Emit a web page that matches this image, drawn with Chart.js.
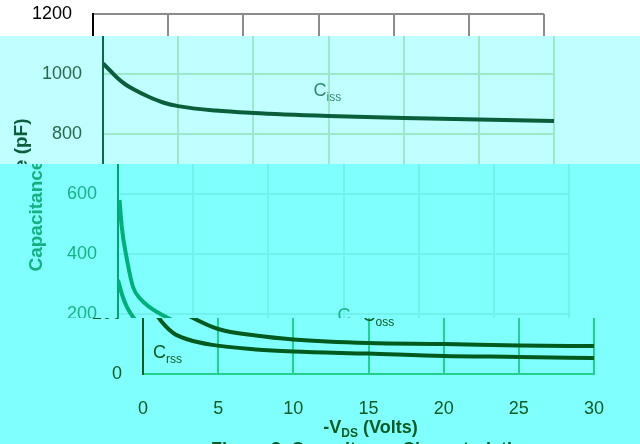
<!DOCTYPE html>
<html>
<head>
<meta charset="utf-8">
<script src="https://cdn.jsdelivr.net/npm/chart.js@4/dist/chart.umd.min.js"></script>
<style>
body { margin: 0; background: #fff; }
#wrap { position: relative; width: 640px; height: 444px; overflow: hidden; }
.band { position: absolute; left: 0; width: 640px; overflow: hidden; }
.band div { position: absolute; width: 640px; height: 444px; }
</style>
</head>
<body>
<div id="wrap"></div>
<script>
// data (volts / pF)
var ciss_v  = [0, 0.5, 1, 1.5, 2, 3, 4, 5, 7.5, 10, 15, 20, 25, 30];
var ciss_pf = [1035, 1010, 985, 965, 950, 925, 905, 893, 878, 870, 860, 853, 848, 843];
var coss_v  = [0.1, 0.25, 0.6, 1, 1.5, 2.1, 3.2, 5, 7.5, 10, 15, 20, 25, 30];
var coss_pf = [580, 490, 380, 290, 250, 223, 190, 150, 128, 115, 103, 100, 95, 93];
var crss_v  = [0, 0.3, 0.6, 1, 2, 3, 4.6, 7.5, 10, 15, 20, 25, 30];
var crss_pf = [313, 260, 223, 190, 137, 115, 97, 82, 75, 68, 60, 57, 53];
var x_min = 0, x_max = 30, x_step = 5;
var y_min = 0, y_max = 1200, y_step = 200;
var x_title = ["-V", "DS", " (Volts)"];
var y_title = "Capacitance (pF)";
var caption = "Figure 3. Capacitance Characteristics";
// series label anchors: [name, sub, volts, pF]
var labels = [["C", "iss", 14, 927], ["C", "oss", 14.6, 177], ["C", "rss", 0.67, 53]];

// the picture is cut in horizontal strips, each shifted and recoloured
var bands = [
    { top: 0,   h: 36,  shift: 0,  bg: '#ffffff', grid: '#8c8c8c', axisY: '#000000', axisX: '#8c8c8c', tick: '#000000', line: '#0b5e3c', text: '#000000' },
    { top: 36,  h: 128, shift: 10, bg: '#c0ffff', grid: '#9de8c8', axisY: '#0b6b48', axisX: '#9de8c8', tick: '#236b4c', line: '#0b5e3c', text: '#2f8a6c', title: '#0b5e3c' },
    { top: 164, h: 154, shift: 25, bg: '#80ffff', grid: '#72f2ec', axisY: '#00a574', axisX: '#72f2ec', tick: '#14b383', line: '#00b07a', text: '#14b383', title: '#14b080' },
    { top: 318, h: 126, shift: 50, bg: '#80ffff', grid: '#24d08e', axisY: '#005a28', axisX: '#24d08e', tick: '#0d5a22', line: '#005a1e', text: '#0d5a22', title: '#0d5a22' }
];

function pts(xs, ys) {
    var out = [];
    for (var i = 0; i < xs.length; i++) out.push({ x: xs[i], y: ys[i] });
    return out;
}

function textPlugin(b) {
    return {
        id: 'texts',
        afterDraw: function (chart) {
            var ctx = chart.ctx;
            var xs = chart.scales.x, ys = chart.scales.y;
            var area = chart.chartArea;
            var titleCol = b.title || b.text;
            ctx.save();
            ctx.fillStyle = titleCol;
            // y title
            ctx.save();
            ctx.translate(12, 195);
            ctx.rotate(-Math.PI / 2);
            ctx.font = 'bold 19px "Liberation Sans", Arial, sans-serif';
            ctx.textAlign = 'center';
            ctx.textBaseline = 'middle';
            ctx.fillText(y_title, 0, 0);
            ctx.restore();
            // x title with subscript
            var big = 'bold 18px "Liberation Sans", Arial, sans-serif';
            var small = 'bold 12px "Liberation Sans", Arial, sans-serif';
            ctx.textBaseline = 'alphabetic';
            ctx.textAlign = 'left';
            ctx.font = big; var w1 = ctx.measureText(x_title[0]).width; var w3 = ctx.measureText(x_title[2]).width;
            ctx.font = small; var w2 = ctx.measureText(x_title[1]).width;
            var cx = (area.left + area.right) / 2 + 2;
            var x0 = cx - (w1 + w2 + w3) / 2;
            var base = 433;
            ctx.font = big; ctx.fillText(x_title[0], x0, base);
            ctx.font = small; ctx.fillText(x_title[1], x0 + w1, base + 4);
            ctx.font = big; ctx.fillText(x_title[2], x0 + w1 + w2, base);
            // caption
            ctx.textAlign = 'center';
            ctx.fillText(caption, cx + 1, 455);
            // series labels
            ctx.fillStyle = b.text;
            ctx.textAlign = 'left';
            labels.forEach(function (l) {
                var lx = xs.getPixelForValue(l[2]);
                var ly = ys.getPixelForValue(l[3]);
                ctx.font = '18px "Liberation Sans", Arial, sans-serif';
                ctx.fillText(l[0], lx, ly);
                var cw = ctx.measureText(l[0]).width;
                ctx.font = '12px "Liberation Sans", Arial, sans-serif';
                ctx.fillText(l[1], lx + cw, ly + 5);
            });
            ctx.restore();
        }
    };
}

var wrap = document.getElementById('wrap');
bands.forEach(function (b) {
    var band = document.createElement('div');
    band.className = 'band';
    band.style.top = b.top + 'px';
    band.style.height = b.h + 'px';
    band.style.background = b.bg;
    var inner = document.createElement('div');
    inner.style.top = (-b.top) + 'px';
    inner.style.left = b.shift + 'px';
    var cv = document.createElement('canvas');
    cv.width = 640; cv.height = 444;
    inner.appendChild(cv);
    band.appendChild(inner);
    wrap.appendChild(band);

    var ds = function (xs, ys) {
        return { data: pts(xs, ys), borderColor: b.line, borderWidth: 4, pointRadius: 0,
                 cubicInterpolationMode: 'monotone', fill: false };
    };
    new Chart(cv.getContext('2d'), {
        type: 'line',
        data: { datasets: [ds(ciss_v, ciss_pf), ds(coss_v, coss_pf), ds(crss_v, crss_pf)] },
        plugins: [textPlugin(b)],
        options: {
            responsive: false,
            animation: false,
            devicePixelRatio: 1,
            layout: { padding: { left: 0, top: 14, right: 96, bottom: 0 } },
            plugins: { legend: { display: false }, tooltip: { enabled: false } },
            scales: {
                x: {
                    type: 'linear', min: x_min, max: x_max,
                    ticks: { stepSize: x_step, color: b.tick, padding: 24,
                             callback: function (v) { return String(v); },
                             font: { size: 18, family: '"Liberation Sans", Arial, sans-serif' } },
                    grid: { color: b.grid, lineWidth: 2, drawTicks: false },
                    border: { color: b.axisX, width: 2 },
                    afterFit: function (s) { s.height = 70; s.paddingLeft = 0; s.paddingRight = 0; }
                },
                y: {
                    min: y_min, max: y_max,
                    ticks: { stepSize: y_step, color: b.tick, padding: 21,
                             callback: function (v) { return String(v); },
                             font: { size: 18, family: '"Liberation Sans", Arial, sans-serif' } },
                    grid: { color: b.grid, lineWidth: 2, drawTicks: false },
                    border: { color: b.axisY, width: 2 },
                    afterFit: function (s) { s.width = 93; s.paddingTop = 0; s.paddingBottom = 0; }
                }
            }
        }
    });
});
</script>
</body>
</html>
